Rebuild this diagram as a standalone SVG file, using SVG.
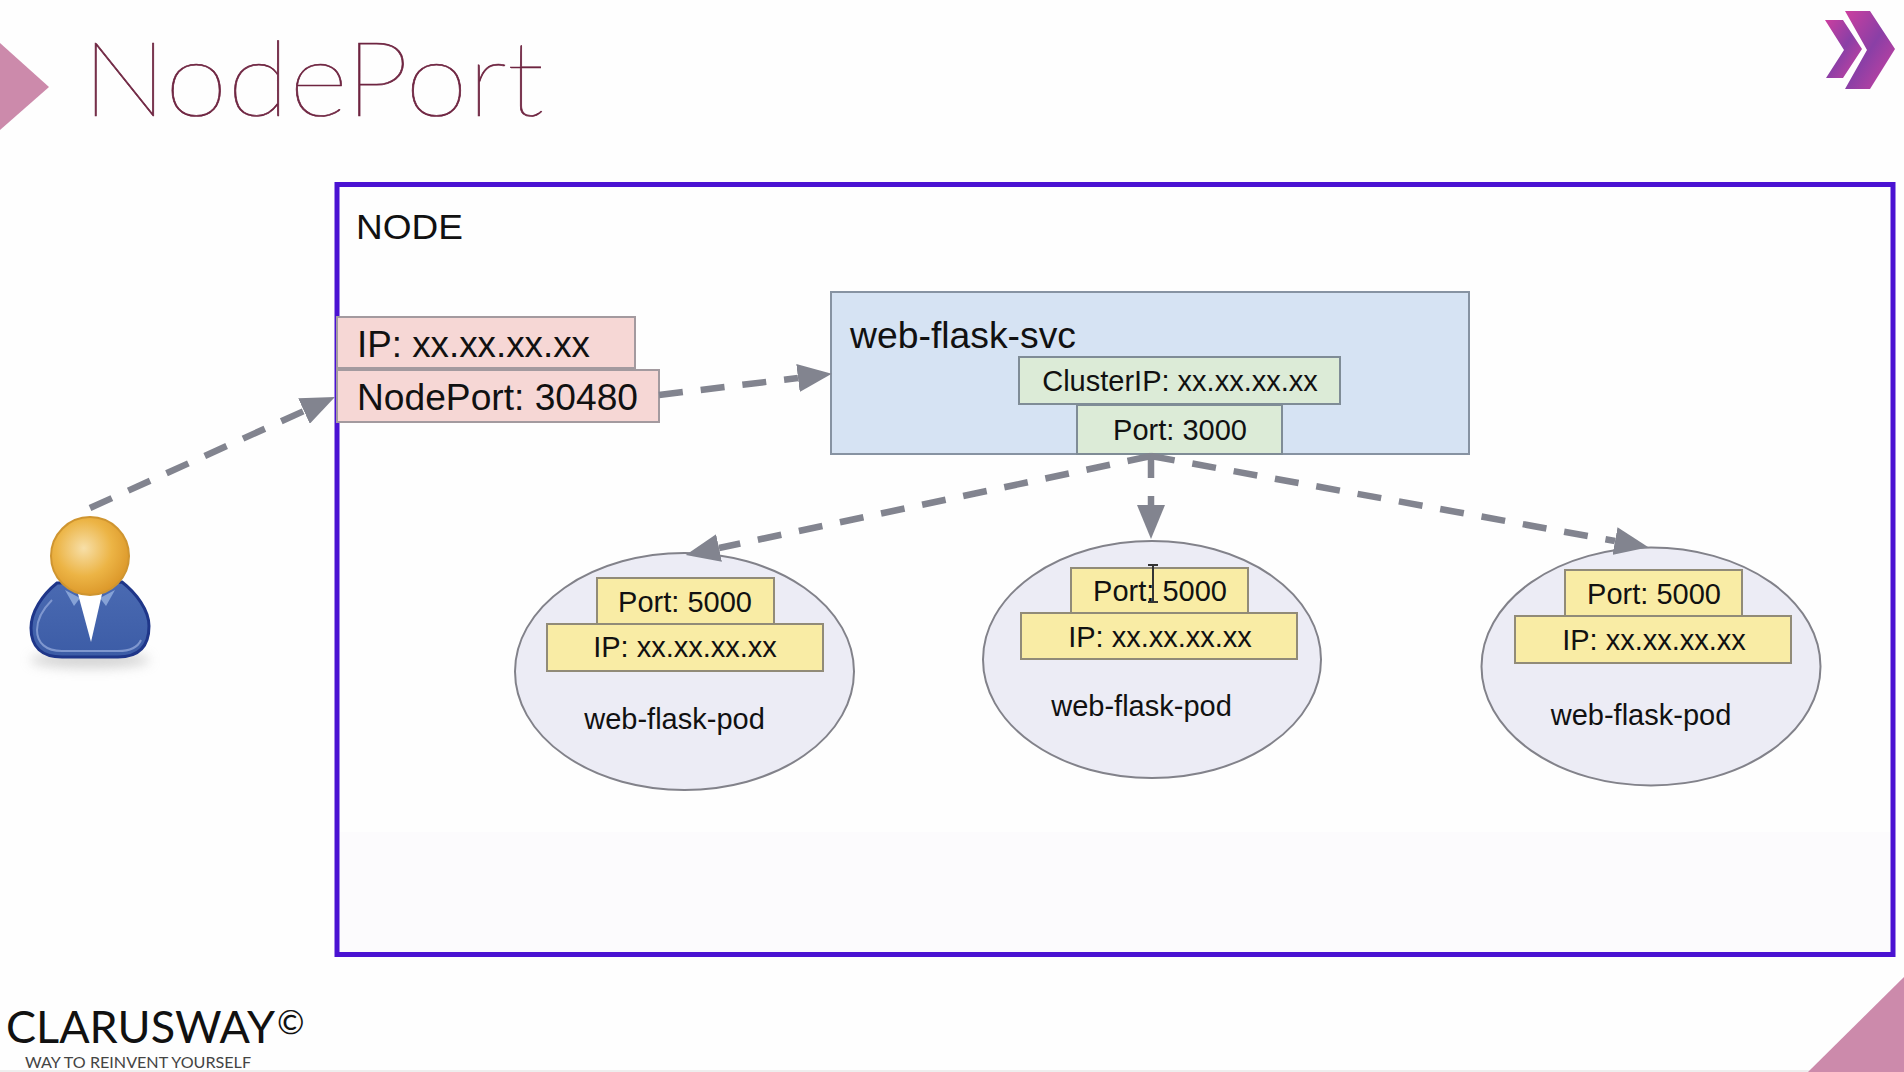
<svg xmlns="http://www.w3.org/2000/svg" width="1904" height="1072" viewBox="0 0 1904 1072">
<style>
text{font-family:"Liberation Sans",Arial,sans-serif;fill:#111}
.f36{font-size:36px}
.f29{font-size:29px}
.m{text-anchor:middle}
.brand{font-family:Lato,"Liberation Sans",sans-serif}
.pink{fill:#f6d7d5;stroke:#a39a9f;stroke-width:2}
.green{fill:#dcebd7;stroke:#7f8c96;stroke-width:2}
.yellow{fill:#f9eca5;stroke:#918b78;stroke-width:2}
.pod{fill:#ececf5;stroke:#82828a;stroke-width:2}
.deco{fill:#cc8aab}
.conn{fill:none;stroke:#82848f;stroke-width:6.500;stroke-dasharray:24 18;marker-end:url(#head)}
</style>
<defs>
<marker id="head" markerUnits="userSpaceOnUse" markerWidth="36" markerHeight="28" refX="0" refY="14" orient="auto"><path d="M0,0 L34,14 L0,28 Z" fill="#82848f"/></marker>
<radialGradient id="face" cx="0.42" cy="0.4" r="0.6"><stop offset="0" stop-color="#f7dfa8"/><stop offset="0.6" stop-color="#ecb445"/><stop offset="1" stop-color="#dd9a2c"/></radialGradient>
<linearGradient id="chev" x1="0" y1="0" x2="1" y2="1"><stop offset="0" stop-color="#cc3f9f"/><stop offset="0.5" stop-color="#8a3fa6"/><stop offset="1" stop-color="#d0429f"/></linearGradient>
<linearGradient id="suit" x1="0" y1="0" x2="0" y2="1"><stop offset="0" stop-color="#4a6ab2"/><stop offset="1" stop-color="#3c5ca6"/></linearGradient>
<filter id="blur" x="-30%" y="-100%" width="160%" height="300%"><feGaussianBlur stdDeviation="6"/></filter>
</defs>
<rect width="1904" height="1072" fill="#fefefe"/>
<rect y="1070" width="1904" height="2" fill="#eeeeee"/>
<g id="decoration">
<polygon class="deco" points="0,43 49,87 0,130"/>
<polygon class="deco" points="1904,977 1904,1072 1808,1072"/>
<polygon fill="url(#chev)" points="1845,11 1870,11 1895,49 1870,89 1845,89 1867,50"/>
<polygon fill="url(#chev)" points="1825,20 1843,20 1862,49 1843,78 1826,78 1844,50"/>
</g>
<text id="title" x="82" y="116" font-size="104" font-weight="100" textLength="462" lengthAdjust="spacingAndGlyphs" style="font-family:Lato,'Liberation Sans',sans-serif;fill:#6e2440;stroke:#6e2440;stroke-width:0.700">NodePort</text>
<g id="brand">
<text class="brand" x="6" y="1043" font-size="44" textLength="269" lengthAdjust="spacingAndGlyphs">CLARUSWAY</text>
<text class="brand" x="277" y="1034" font-size="33">©</text>
<text class="brand" x="25" y="1067.500" font-size="15" textLength="226" lengthAdjust="spacingAndGlyphs" style="fill:#444">WAY TO REINVENT YOURSELF</text>
</g>
<g id="node">
<rect x="337" y="184.500" width="1556" height="770" fill="#fefefe" stroke="#4a12d2" stroke-width="5"/>
<rect x="340" y="832" width="1550" height="120" fill="#fcfbfd"/>
<text x="356" y="239" font-size="35" textLength="107" lengthAdjust="spacingAndGlyphs">NODE</text>
</g>
<g id="user">
<ellipse cx="90" cy="660" rx="60" ry="8" fill="#b0b0b0" opacity="0.55" filter="url(#blur)"/>
<path d="M57,583 C42,595 31,612 31,628 C31,647 42,657 62,657 L118,657 C138,657 149,647 149,626 C149,610 136,593 122,582 Z" fill="url(#suit)" stroke="#1f3689" stroke-width="3"/>
<path d="M52,600 C42,610 37,620 37,630 C37,643 46,651 62,651 L118,651 C130,651 138,647 141,640" fill="none" stroke="#7f97cf" stroke-width="2"/>
<polygon points="65,590 80,598 74,606" fill="#86a2d6"/>
<polygon points="115,590 100,598 106,606" fill="#86a2d6"/>
<polygon points="78,594 102,594 91,642" fill="#ffffff"/>
<circle cx="90" cy="556" r="39" fill="url(#face)" stroke="#cf9530" stroke-width="2"/>
</g>
<g id="node-ip">
<rect class="pink" x="337" y="317" width="298" height="51"/>
<text class="f36" x="357" y="357" textLength="233" lengthAdjust="spacingAndGlyphs">IP: xx.xx.xx.xx</text>
</g>
<g id="node-port">
<rect class="pink" x="337" y="370" width="322" height="52"/>
<text class="f36" x="357" y="409.500" textLength="281" lengthAdjust="spacingAndGlyphs">NodePort: 30480</text>
</g>
<g id="web-flask-svc">
<rect x="831" y="292" width="638" height="162" fill="#d6e3f3" stroke="#8793a2" stroke-width="2"/>
<text class="f36" x="850" y="348" textLength="226" lengthAdjust="spacingAndGlyphs">web-flask-svc</text>
<rect class="green" x="1019" y="357" width="321" height="47"/>
<text class="f29 m" x="1180" y="391">ClusterIP: xx.xx.xx.xx</text>
<rect class="green" x="1077" y="405" width="205" height="49"/>
<text class="f29 m" x="1180" y="440">Port: 3000</text>
</g>
<g id="pod-1">
<ellipse class="pod" cx="684.500" cy="671.500" rx="169.500" ry="118.500"/>
<rect class="yellow" x="597" y="578" width="177" height="47"/>
<text class="f29 m" x="685" y="612">Port: 5000</text>
<rect class="yellow" x="547" y="624" width="276" height="47"/>
<text class="f29 m" x="685" y="657">IP: xx.xx.xx.xx</text>
<text class="f29 m" x="674.500" y="729">web-flask-pod</text>
</g>
<g id="pod-2">
<ellipse class="pod" cx="1152" cy="659.500" rx="169" ry="118.500"/>
<rect class="yellow" x="1071" y="568" width="177" height="46"/>
<text class="f29 m" x="1160" y="601">Port: 5000</text>
<rect class="yellow" x="1021" y="613" width="276" height="46"/>
<text class="f29 m" x="1160" y="647">IP: xx.xx.xx.xx</text>
<text class="f29 m" x="1141.500" y="716">web-flask-pod</text>
</g>
<g id="pod-3">
<ellipse class="pod" cx="1651" cy="666.500" rx="169.500" ry="119"/>
<rect class="yellow" x="1565" y="570" width="177" height="47"/>
<text class="f29 m" x="1654" y="604">Port: 5000</text>
<rect class="yellow" x="1515" y="616" width="276" height="47"/>
<text class="f29 m" x="1654" y="650">IP: xx.xx.xx.xx</text>
<text class="f29 m" x="1641" y="725">web-flask-pod</text>
</g>
<g id="connectors">
<path class="conn" d="M90,508 L304,411"/>
<path class="conn" d="M659,395 L798,378"/>
<path class="conn" d="M1151,454 L1151,505"/>
<path class="conn" d="M1151,456 L719,548"/>
<path class="conn" d="M1151,456 L1615,541"/>
</g>
<g id="cursor" fill="none" stroke="#333" stroke-width="2">
<path d="M1148,565 H1158 M1153,565 V602 M1148,602 H1158"/>
</g>
</svg>
